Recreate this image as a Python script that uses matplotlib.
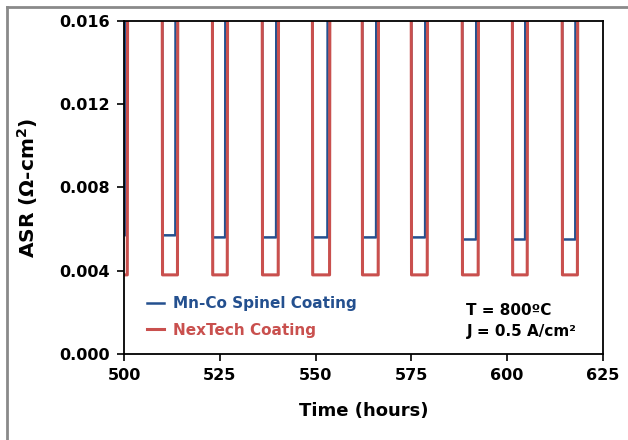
# ASR vs time, cyclic (thermal) test of two coatings

import matplotlib.pyplot as plt
from matplotlib.lines import Line2D

plt.rcParams["font.family"] = "DejaVu Sans"
plt.rcParams["font.weight"] = "bold"

# dips (hours); outside the dips the ASR runs off scale
dip_start = [497.0, 509.9, 523.0, 536.0, 549.1, 562.1, 574.9, 588.2, 601.3, 614.3]
dip_end = [501.0, 514.1, 527.1, 540.4, 553.8, 566.5, 579.3, 592.6, 605.4, 618.5]
red_floor = [0.0038, 0.0038, 0.0038, 0.0038, 0.0038, 0.0038, 0.0038, 0.0038, 0.0038, 0.0038]
blue_floor = [0.0057, 0.0057, 0.0056, 0.0056, 0.0056, 0.0056, 0.0056, 0.0055, 0.0055, 0.0055]
blue_early = 0.6   # blue comes back up a bit before red
off_scale = 0.03

t_red, y_red, t_blue, y_blue = [], [], [], []
for s, e, rf, bf in zip(dip_start, dip_end, red_floor, blue_floor):
    t_red += [s, s + 0.15, e - 0.15, e]
    y_red += [off_scale, rf, rf, off_scale]
    t_blue += [s, s + 0.15, e - blue_early - 0.1, e - blue_early]
    y_blue += [off_scale, bf, bf, off_scale]

blue = "#24508F"
red = "#C9504E"

fig = plt.figure(figsize=(6.28, 4.40), dpi=100)
ax = fig.add_axes([0.1975, 0.1955, 0.7625, 0.757])

ax.plot(t_blue, y_blue, color=blue, linewidth=1.8, label="Mn-Co Spinel Coating")
ax.plot(t_red, y_red, color=red, linewidth=2.2, label="NexTech Coating")

ax.set_xlim(500, 625)
ax.set_ylim(0, 0.016)
ax.set_xticks([500, 525, 550, 575, 600, 625])
ax.set_yticks([0.0, 0.004, 0.008, 0.012, 0.016])
ax.set_yticklabels(["%.3f" % v for v in ax.get_yticks()])
ax.tick_params(labelsize=11.5, length=5, width=1.2, direction="out", pad=5)
for sp in ax.spines.values():
    sp.set_linewidth(1.3)

ax.set_xlabel("Time (hours)", fontsize=13, fontweight="bold", labelpad=14)
ax.set_ylabel(r"ASR ($\mathbf{\Omega}$-cm$^{\mathbf{2}}$)", fontsize=14.5, fontweight="bold", labelpad=14)

leg = ax.legend(loc="lower left", bbox_to_anchor=(0.02, 0.008), frameon=False,
                fontsize=11, handlelength=1.1, handletextpad=0.6, labelspacing=0.75)
for txt, ln in zip(leg.get_texts(), leg.get_lines()):
    txt.set_color(ln.get_color())

ax.text(0.715, 0.132, "T = 800ºC", transform=ax.transAxes, fontsize=11, fontweight="bold", va="center")
ax.text(0.715, 0.066, "J = 0.5 A/cm²", transform=ax.transAxes, fontsize=11, fontweight="bold", va="center")

# grey frame of the original figure (top and left edges show)
fig.add_artist(Line2D([7 / 628, 1.0], [1 - 7 / 440, 1 - 7 / 440], color="#8a8a8a", linewidth=2))
fig.add_artist(Line2D([7 / 628, 7 / 628], [0.0, 1 - 7 / 440], color="#8a8a8a", linewidth=2))

plt.savefig("out.png", dpi=100)
